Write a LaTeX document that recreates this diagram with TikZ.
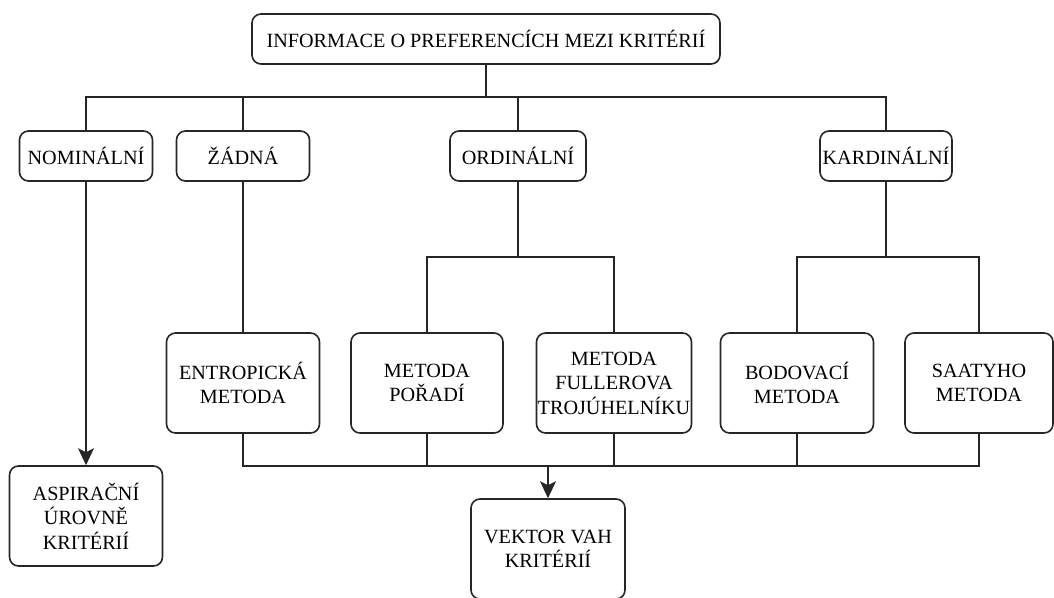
\documentclass[tikz,border=0pt]{standalone}
\usepackage{fontspec}
\setmainfont{Liberation Serif}
\usetikzlibrary{arrows.meta}
\begin{document}
\begin{tikzpicture}[x=1pt,y=-1pt,
  box/.style={draw=black!85, line width=1.6pt, rounded corners=9pt, align=center,
    inner sep=0pt, font=\fontsize{20.2}{24.5}\selectfont},
  sbox/.style={box, minimum height=50pt},
  bbox/.style={box, minimum height=100pt},
  conn/.style={draw=black!85, line width=1.6pt},
  arr/.style={conn, -{Stealth[width=16pt,length=17pt,inset=4pt]}}]
\useasboundingbox (0,0) rectangle (1054,597);
\clip (0,0) rectangle (1054,597);
% top
\node[sbox, minimum width=468pt] (top) at (486,39) {INFORMACE O PREFERENCÍCH MEZI KRITÉRIÍ};
% level 2
\node[sbox, minimum width=133pt] (nom) at (86,156) {NOMINÁLNÍ};
\node[sbox, minimum width=133pt] (zad) at (243,156) {ŽÁDNÁ};
\node[sbox, minimum width=136pt] (ord) at (518,156) {ORDINÁLNÍ};
\node[sbox, minimum width=132pt] (kar) at (886,156) {KARDINÁLNÍ};
% level 3
\node[bbox, minimum width=153pt] (ent) at (243,383) {ENTROPICKÁ\\METODA};
\node[bbox, minimum width=152pt] (por) at (427,383) {METODA\\POŘADÍ};
\node[bbox, minimum width=155pt] (ful) at (614,383) {METODA\\FULLEROVA\\TROJÚHELNÍKU};
\node[bbox, minimum width=153pt] (bod) at (797,383) {BODOVACÍ\\METODA};
\node[bbox, minimum width=148pt] (saa) at (979,383) {SAATYHO\\METODA};
% bottom
\node[bbox, minimum width=153pt] (asp) at (86,516) {ASPIRAČNÍ\\ÚROVNĚ\\KRITÉRIÍ};
\node[bbox, minimum width=154pt] (vek) at (548,549) {VEKTOR VAH\\KRITÉRIÍ};
% bus coordinates
\coordinate (b1) at (486,97);
\coordinate (b2) at (518,257);
\coordinate (b3) at (886,257);
\coordinate (b4) at (548,466);
% connectors
\draw[conn] (top.south) -- (top.south |- b1);
\draw[conn] (nom.north) -- (nom.north |- b1) -- (kar.north |- b1) -- (kar.north);
\draw[conn] (zad.north) -- (zad.north |- b1);
\draw[conn] (ord.north) -- (ord.north |- b1);
\draw[arr] (nom.south) -- (asp.north);
\draw[conn] (zad.south) -- (ent.north);
\draw[conn] (ord.south) -- (b2);
\draw[conn] (por.north) -- (por.north |- b2) -- (ful.north |- b2) -- (ful.north);
\draw[conn] (kar.south) -- (b3);
\draw[conn] (bod.north) -- (bod.north |- b3) -- (saa.north |- b3) -- (saa.north);
\draw[conn] (ent.south) -- (ent.south |- b4) -- (saa.south |- b4) -- (saa.south);
\draw[conn] (por.south) -- (por.south |- b4);
\draw[conn] (ful.south) -- (ful.south |- b4);
\draw[conn] (bod.south) -- (bod.south |- b4);
\draw[arr] (b4) -- (vek.north);
\end{tikzpicture}
\end{document}
